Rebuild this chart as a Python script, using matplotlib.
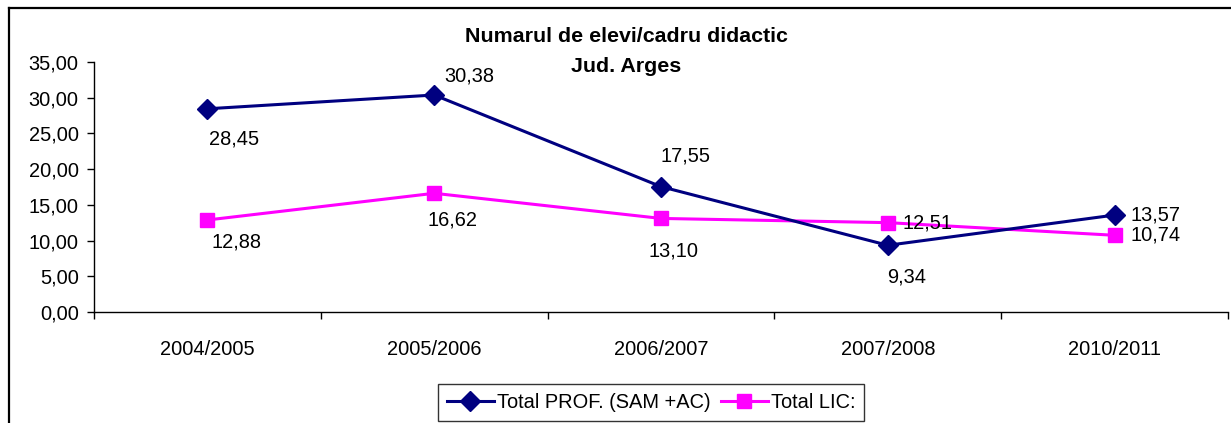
import matplotlib
matplotlib.use("Agg")
import matplotlib.pyplot as plt
from matplotlib.lines import Line2D
from matplotlib.ticker import FuncFormatter, FixedLocator

plt.rcParams['font.family'] = ['Liberation Sans', 'DejaVu Sans']

categories = ["2004/2005", "2005/2006", "2006/2007", "2007/2008", "2010/2011"]
prof_values = [28.45, 30.38, 17.55, 9.34, 13.57]
lic_values = [12.88, 16.62, 13.10, 12.51, 10.74]
series_names = ["Total PROF. (SAM +AC)", "Total LIC:"]
title_lines = ["Numarul de elevi/cadru didactic", "Jud. Arges"]

# label offsets in pixels (dx, dy) relative to each point
prof_offsets = [(27, -30), (35, 19), (24, 31), (19, -32), (16, 0)]
lic_offsets = [(29, -22), (18, -27), (13, -33), (15, 0), (16, 0)]

W, H = 1231, 423
fig = plt.figure(figsize=(W / 100, H / 100), dpi=100)
ax = fig.add_axes([94 / W, 1 - 312 / H, (1228 - 94) / W, (312 - 62) / H])

x = list(range(len(categories)))
navy = "#000080"
mag = "#FF00FF"
l1, = ax.plot(x, prof_values, color=navy, lw=2.2, marker="D", ms=10.5, mec=navy, mfc=navy,
              label=series_names[0], zorder=4, clip_on=False)
l2, = ax.plot(x, lic_values, color=mag, lw=2.2, marker="s", ms=10.5, mec=mag, mfc=mag,
              label=series_names[1], zorder=3, clip_on=False)

fs = 14.4

def fmt(v):
    return f"{v:.2f}".replace(".", ",")

for xi, v, (dx, dy) in zip(x, prof_values, prof_offsets):
    ha = "left" if dy == 0 else "center"
    ax.annotate(fmt(v), (xi, v), xytext=(dx, dy), textcoords="offset pixels",
                ha=ha, va="center", fontsize=fs, zorder=5)
for xi, v, (dx, dy) in zip(x, lic_values, lic_offsets):
    ha = "left" if dy == 0 else "center"
    ax.annotate(fmt(v), (xi, v), xytext=(dx, dy), textcoords="offset pixels",
                ha=ha, va="center", fontsize=fs, zorder=5)

ax.set_xlim(-0.5, len(categories) - 0.5)
ax.set_ylim(0, 35)
ax.set_yticks([0, 5, 10, 15, 20, 25, 30, 35])
ax.yaxis.set_major_formatter(FuncFormatter(lambda v, p: fmt(v)))
ax.set_xticks(x)
ax.set_xticklabels(categories)
ax.xaxis.set_minor_locator(FixedLocator([i - 0.5 for i in range(len(categories) + 1)]))
ax.tick_params(axis="x", which="major", length=0, pad=20, labelsize=fs)
ax.tick_params(axis="x", which="minor", length=5, width=1, direction="out", color="black")
ax.tick_params(axis="y", which="major", length=5, width=1, direction="out", pad=6, labelsize=fs)
for s in ["top", "right"]:
    ax.spines[s].set_visible(False)
for s in ["left", "bottom"]:
    ax.spines[s].set_color("black")
    ax.spines[s].set_linewidth(1.0)

fig.text(626 / W, 1 - 37 / H, title_lines[0], ha="center", va="center",
         fontsize=15.4, fontweight="bold")
fig.text(626 / W, 1 - 67 / H, title_lines[1], ha="center", va="center",
         fontsize=15.4, fontweight="bold")

# outer chart border (left and top visible)
fig.add_artist(Line2D([9 / W, 9 / W], [0, 1 - 8 / H], transform=fig.transFigure,
                      color="black", lw=1.6))
fig.add_artist(Line2D([9 / W, 1], [1 - 8 / H, 1 - 8 / H], transform=fig.transFigure,
                      color="black", lw=1.6))

leg = fig.legend(handles=[l1, l2], loc="upper center", bbox_to_anchor=(651 / W, 1 - 384 / H),
                 ncol=2, fontsize=fs, frameon=True, fancybox=False, handlelength=2.35,
                 handletextpad=0.15, columnspacing=0.5, borderpad=0.45, borderaxespad=0)
leg.get_frame().set_edgecolor("black")
leg.get_frame().set_linewidth(1.0)

fig.savefig("out.png", dpi=100)
